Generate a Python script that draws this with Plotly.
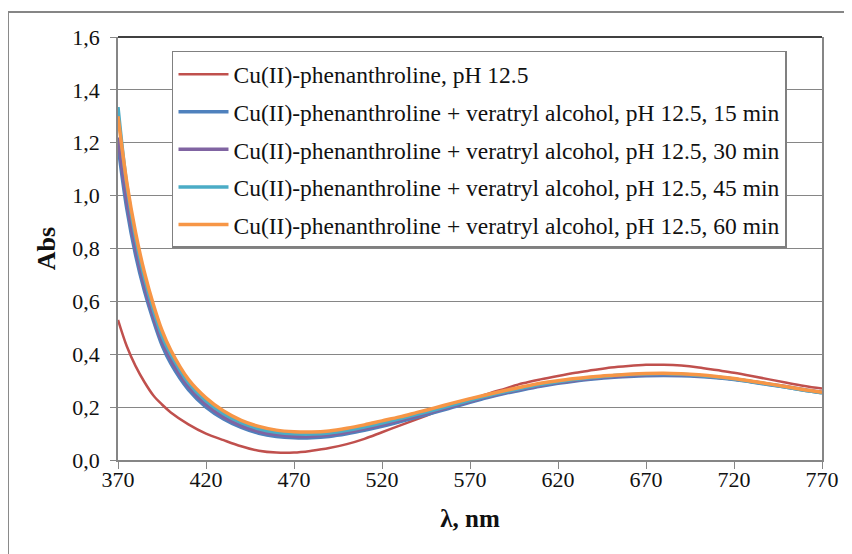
import plotly.graph_objects as go

# wavelengths (nm)
wl = [370, 375, 380, 385, 390, 395, 400, 410, 420, 430, 440, 450, 460, 470, 480, 490,
      500, 510, 520, 530, 540, 550, 560, 570, 580, 590, 600, 610, 620, 630, 640, 650,
      660, 670, 680, 690, 700, 710, 720, 730, 740, 750, 760, 770]

abs_cu = [0.53, 0.43, 0.355, 0.295, 0.245, 0.21, 0.18, 0.135, 0.10, 0.075, 0.052, 0.035,
          0.028, 0.028, 0.035, 0.045, 0.06, 0.08, 0.105, 0.13, 0.155, 0.18, 0.205, 0.228,
          0.25, 0.27, 0.29, 0.305, 0.318, 0.33, 0.34, 0.35, 0.356, 0.36, 0.36, 0.357,
          0.35, 0.34, 0.33, 0.318, 0.305, 0.292, 0.28, 0.27]

abs_15 = [1.19, 0.95, 0.775, 0.64, 0.53, 0.435, 0.365, 0.266, 0.2, 0.155, 0.123, 0.101,
          0.089, 0.084, 0.084, 0.089, 0.099, 0.112, 0.127, 0.144, 0.162, 0.18, 0.199, 0.218,
          0.236, 0.252, 0.266, 0.279, 0.29, 0.299, 0.306, 0.312, 0.316, 0.319, 0.32, 0.319,
          0.316, 0.311, 0.304, 0.295, 0.285, 0.275, 0.264, 0.254]

abs_30 = [1.22, 0.98, 0.80, 0.66, 0.545, 0.45, 0.38, 0.278, 0.21, 0.163, 0.13, 0.108,
          0.096, 0.09, 0.09, 0.095, 0.105, 0.118, 0.133, 0.15, 0.167, 0.185, 0.203, 0.222,
          0.24, 0.255, 0.269, 0.282, 0.293, 0.302, 0.309, 0.315, 0.319, 0.322, 0.323, 0.322,
          0.318, 0.313, 0.306, 0.297, 0.287, 0.277, 0.266, 0.256]

abs_45 = [1.335, 1.04, 0.84, 0.69, 0.57, 0.47, 0.40, 0.292, 0.223, 0.175, 0.141, 0.118,
          0.105, 0.099, 0.098, 0.102, 0.112, 0.125, 0.14, 0.156, 0.173, 0.19, 0.208, 0.226,
          0.243, 0.258, 0.272, 0.285, 0.296, 0.305, 0.312, 0.318, 0.322, 0.325, 0.326, 0.324,
          0.32, 0.314, 0.306, 0.296, 0.286, 0.275, 0.264, 0.254]

abs_60 = [1.30, 1.05, 0.86, 0.71, 0.59, 0.49, 0.415, 0.305, 0.235, 0.185, 0.15, 0.127,
          0.113, 0.107, 0.106, 0.11, 0.12, 0.133, 0.148, 0.163, 0.18, 0.197, 0.215, 0.232,
          0.248, 0.263, 0.277, 0.29, 0.3, 0.308, 0.315, 0.32, 0.324, 0.327, 0.328, 0.326,
          0.322, 0.316, 0.308, 0.298, 0.288, 0.277, 0.266, 0.256]

names = ["Cu(II)-phenanthroline, pH 12.5",
         "Cu(II)-phenanthroline + veratryl alcohol, pH 12.5, 15 min",
         "Cu(II)-phenanthroline + veratryl alcohol, pH 12.5, 30 min",
         "Cu(II)-phenanthroline + veratryl alcohol, pH 12.5, 45 min",
         "Cu(II)-phenanthroline + veratryl alcohol, pH 12.5, 60 min"]
series = [abs_cu, abs_15, abs_30, abs_45, abs_60]
colors = ["#C0504D", "#4F81BD", "#8064A2", "#4BACC6", "#F79646"]
widths = [2.5, 3.5, 3.5, 3.5, 3.5]

FONT = "Liberation Serif"

fig = go.Figure()
for i in range(len(series)):
    fig.add_trace(go.Scatter(x=wl, y=series[i], mode="lines", name=names[i],
                             line=dict(color=colors[i], width=widths[i], shape="spline"),
                             legendgroup="g%d" % i))

fig.update_layout(
    width=852, height=554,
    margin=dict(l=110, r=38, t=29, b=102),
    paper_bgcolor="white", plot_bgcolor="white",
    separators=",.",
    font=dict(family=FONT, size=22, color="#111"),
    showlegend=True,
    legend=dict(x=0.0767, y=0.967, xanchor="left", yanchor="top",
                bgcolor="white", bordercolor="#808080", borderwidth=1.5,
                font=dict(family=FONT, size=23.5, color="#111"),
                itemwidth=50, tracegroupgap=4),
    xaxis=dict(range=[370, 770], tickmode="array", tickvals=list(range(370, 771, 50)),
               showgrid=False, showline=True, linecolor="#868686", linewidth=1.5,
               ticks="outside", ticklen=7, tickcolor="#868686", ticklabelstandoff=-8,
               title=dict(text="<b>λ, nm</b>", font=dict(family=FONT, size=25), standoff=18),
               tickfont=dict(family=FONT, size=22), zeroline=False),
    yaxis=dict(range=[0, 1.6], dtick=0.2, tickformat=".1f",
               showgrid=True, gridcolor="#868686", gridwidth=1,
               showline=True, linecolor="#868686", linewidth=1.5, mirror=True,
               ticks="outside", ticklen=6, tickcolor="#868686", ticklabelstandoff=6,
               title=dict(text="<b>Abs</b>", font=dict(family=FONT, size=26), standoff=9),
               tickfont=dict(family=FONT, size=22), zeroline=False),
)

# black top edge of plot area
fig.add_shape(type="line", xref="paper", yref="paper", x0=0, x1=1, y0=1, y1=1,
              line=dict(color="black", width=1.5))
# outer chart border (cropped at right and bottom)
fig.add_shape(type="rect", xref="paper", yref="paper", x0=-0.1563, x1=1.08,
              y0=-0.28, y1=1.0591, line=dict(color="#868686", width=2))

fig.write_html("out.html")
